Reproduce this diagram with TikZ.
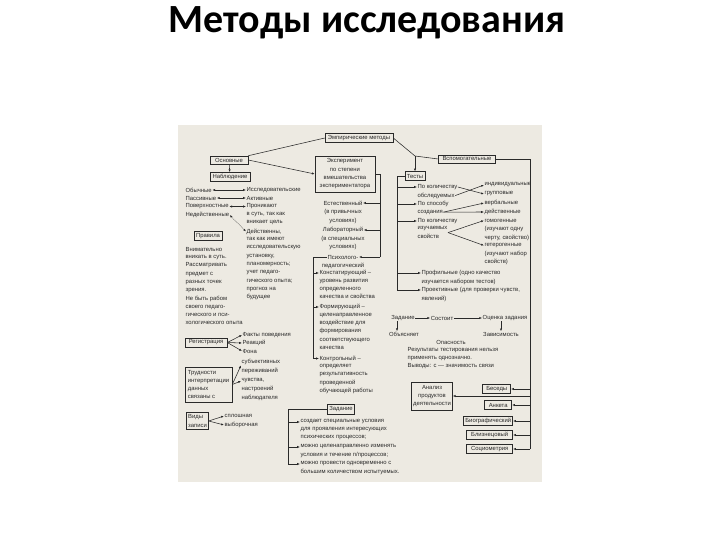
\documentclass[tikz,border=0pt]{standalone}
\usepackage{fontspec}
\setmainfont{Liberation Sans}
\newfontfamily\titlefam{Carlito}
\usepackage{tikz}
\usetikzlibrary{arrows.meta,positioning}
\definecolor{Scan}{HTML}{EDEAE2}
\definecolor{Ink}{HTML}{2A2A2A}
\newcommand\scan{\fontsize{5.9}{8.3}\selectfont}
\tikzset{
  every node/.append style={text=Ink},
  box/.style={draw=Ink, line width=0.55pt, align=center, inner sep=1.6pt, font=\scan},
  tag/.style={inner sep=0.4pt, align=left, font=\scan},
  more/.style={tag, anchor=north west},
  link/.style={draw=Ink, line width=0.55pt},
  arrow/.style={link, -{Latex[length=2.8pt,width=2.2pt]}},
  darrow/.style={link, {Latex[length=2.8pt,width=2.2pt]}-{Latex[length=2.8pt,width=2.2pt]}},
}

\begin{document}
\begin{tikzpicture}[x=1pt, y=-1pt]
  \useasboundingbox (0,0) rectangle (720,540);
  \fill[Scan] (178,125) rectangle (542,482);
  \node[font=\titlefam\bfseries\fontsize{40}{44}\selectfont, text=black] (title) at (367,23) {Методы исследования};

  % top level
  \node[box, minimum width=68pt, minimum height=9pt] (emp) at (359,138) {Эмпирические методы};
  \node[box, minimum width=38pt, minimum height=8pt] (osn) at (229,160) {Основные};
  \node[box, minimum width=57pt, minimum height=8pt] (vsp) at (467,159) {Вспомогательные};
  \node[box, minimum width=40pt, minimum height=9pt] (nab) at (230,177) {Наблюдение};
  \node[box, minimum width=60pt, inner ysep=3pt] (exp) at (345,174) {Эксперимент\\по степени\\вмешательства\\экспериментатора};
  \node[box, minimum width=18pt, minimum height=8.5pt] (tst) at (415,176) {Тесты};
  \coordinate (jn) at (415,156);
  \coordinate (rt) at (530,159);
  \draw[link] (osn.north east) -- (emp.west);
  \draw[arrow] (osn.east) -- (exp.west);
  \draw[arrow] (osn) -- (nab);
  \draw[link] (emp.east) -- (jn) -- (vsp.west);
  \draw[arrow] (jn) -- (tst);

  % observation
  \node[tag, anchor=west] (o1) at (185,190) {Обычные};
  \node[tag, anchor=west] (o2) at (185,198) {Пассивные};
  \node[tag, anchor=west] (o3) at (185,206.5) {Поверхностные};
  \node[tag, anchor=west] (o4) at (185,215) {Недейственные};
  \node[tag, anchor=west] (r1) at (246,190) {Исследовательские};
  \node[tag, anchor=west] (r2) at (246,198) {Активные};
  \node[tag, anchor=west] (r3) at (246,206.5) {Проникают};
  \node[more] (r3b) at ([yshift=-3.8pt]r3.base west) {в суть, так как\\вникает цель};
  \node[tag, anchor=west] (r4) at (246,231.5) {Действенны,};
  \node[more] (r4b) at ([yshift=-3.8pt]r4.base west) {так как имеют\\исследовательскую\\установку,\\планомерность;\\учет педаго-\\гического опыта;\\прогноз на\\будущее};
  \draw[darrow] (o1) -- (r1);
  \draw[darrow] (o2) -- (r2);
  \draw[darrow] (o3) -- (r3);
  \draw[darrow, densely dotted] (o4.east) -- (r4.west);
  \node[box, minimum width=28pt, minimum height=9pt] (prv) at (208,236) {Правила};
  \node[tag, anchor=west] (prv1) at (185,249) {Внимательно};
  \node[more] (prv2) at ([yshift=-3.8pt]prv1.base west) {вникать в суть.\\Рассматривать\\предмет с\\разных точек\\зрения.\\Не быть рабом\\своего педаго-\\гического и пси-\\хологического опыта};

  \node[box, minimum width=42pt, minimum height=9pt] (reg) at (206,342.5) {Регистрация};
  \node[tag, anchor=west] (f1) at (242,335) {Факты поведения};
  \node[tag, anchor=west] (f2) at (242,343) {Реакций};
  \node[tag, anchor=west] (f3) at (242,351) {Фона};
  \foreach \f in {f1,f2,f3} \draw[arrow] (reg.east) -- (\f.west);

  \node[box, align=left, minimum width=47pt, minimum height=35pt] (trd) at (208.5,384.5) {Трудности\\интерпретации\\данных\\связаны с};
  \node[tag, anchor=west] (s1) at (241,362) {субъективных};
  \node[more] (s1b) at ([yshift=-3.8pt]s1.base west) {переживаний};
  \node[tag, anchor=west] (s2) at (241,381) {чувства,};
  \node[more] (s2b) at ([yshift=-3.8pt]s2.base west) {настроений\\наблюдателя};
  \draw[arrow] (trd.east) -- (s1.south west);
  \draw[arrow] (trd.east) -- (s2.west);

  \node[box, align=left, minimum width=21pt, minimum height=17pt] (vid) at (197.5,421) {Виды\\записи};
  \node[tag, anchor=west] (v1) at (224,416) {сплошная};
  \node[tag, anchor=west] (v2) at (224,425) {выборочная};
  \draw[arrow] (vid.east) -- (v1.west);
  \draw[arrow] (vid.east) -- (v2.west);

  % experiment
  \coordinate (ex) at (380,174);
  \node[tag] (e1) at (343,203) {Естественный};
  \node[tag, align=center, anchor=north] (e1b) at ([yshift=-3.8pt]e1.base) {(в привычных\\условиях)};
  \node[tag] (e2) at (343,230) {Лабораторный};
  \node[tag, align=center, anchor=north] (e2b) at ([yshift=-3.8pt]e2.base) {(в специальных\\условиях)};
  \node[tag] (e3) at (343,257) {Психолого-};
  \node[tag, align=center, anchor=north] (e3b) at ([yshift=-3.8pt]e3.base) {педагогический};
  \draw[link] (exp.east) -- (ex) -- (ex |- e3);
  \foreach \e in {e1,e2,e3} \draw[arrow] (ex |- \e) -- (\e);
  \coordinate (pl) at (313,257);
  \node[tag, anchor=west] (k1) at (319,273) {Констатирующий –};
  \node[more] (k1b) at ([yshift=-3.8pt]k1.base west) {уровень развития\\определенного\\качества и свойства};
  \node[tag, anchor=west] (k2) at (319,307) {Формирующий –};
  \node[more] (k2b) at ([yshift=-3.8pt]k2.base west) {целенаправленное\\воздействие для\\формирования\\соответствующего\\качества};
  \node[tag, anchor=west] (k3) at (319,358.5) {Контрольный –};
  \node[more] (k3b) at ([yshift=-3.8pt]k3.base west) {определяет\\результативность\\проведенной\\обучающей работы};
  \draw[link] (e3.west) -- (pl) -- (pl |- k3);
  \foreach \k in {k1,k2,k3} \draw[arrow] (pl |- \k) -- (\k);

  \node[box, minimum width=26pt, minimum height=10pt] (zad) at (341,409) {Задание};
  \coordinate (zl) at (288,409);
  \node[tag, anchor=west] (z1) at (300,422) {создает специальные условия};
  \node[more] (z1b) at ([yshift=-3.8pt]z1.base west) {для проявления интересующих\\психических процессов;};
  \node[tag, anchor=west] (z2) at (300,447) {можно целенаправленно изменять};
  \node[more] (z2b) at ([yshift=-3.8pt]z2.base west) {условия и течение п/процессов;};
  \node[tag, anchor=west] (z3) at (300,464) {можно провести одновременно с};
  \node[more] (z3b) at ([yshift=-3.8pt]z3.base west) {большим количеством испытуемых.};
  \draw[link] (zad.west) -- (zl) -- (zl |- z3);
  \foreach \z in {z1,z2,z3} \draw[arrow] (zl |- \z) -- (\z);

  % tests
  \coordinate (tl) at (397,176);
  \node[tag, anchor=west] (t1) at (417,187) {По количеству};
  \node[more] (t1b) at ([yshift=-3.8pt]t1.base west) {обследуемых};
  \node[tag, anchor=west] (t2) at (417,204) {По способу};
  \node[more] (t2b) at ([yshift=-3.8pt]t2.base west) {создания};
  \node[tag, anchor=west] (t3) at (417,221) {По количеству};
  \node[more] (t3b) at ([yshift=-3.8pt]t3.base west) {изучаемых\\свойств};
  \node[tag, anchor=west] (i1) at (484,185) {индивидуальные};
  \node[tag, anchor=west] (i2) at (484,194) {групповые};
  \node[tag, anchor=west] (i3) at (484,203) {вербальные};
  \node[tag, anchor=west] (i4) at (484,212) {действенные};
  \node[tag, anchor=west] (i5) at (484,220.5) {гомогенные};
  \node[more] (i5b) at ([yshift=-3.8pt]i5.base west) {(изучают одну\\черту, свойство)};
  \node[tag, anchor=west] (i6) at (484,245.5) {гетерогенные};
  \node[more] (i6b) at ([yshift=-3.8pt]i6.base west) {(изучают набор\\свойств)};
  \node[tag, anchor=west] (p1) at (421,273) {Профильные (одно качество};
  \node[more] (p1b) at ([yshift=-3.8pt]p1.base west) {изучается набором тестов)};
  \node[tag, anchor=west] (p2) at (421,290) {Проективные (для проверки чувств,};
  \node[more] (p2b) at ([yshift=-3.8pt]p2.base west) {явлений)};
  \draw[link] (tst.west) -- (tl) -- (tl |- p2);
  \foreach \t in {t1,t2,t3,p1,p2} \draw[arrow] (tl |- \t) -- (\t);
  \draw[arrow] (t1.east) -- (i2.west);
  \draw[arrow] (t1b.east) -- (i1.west);
  \draw[arrow] (t2b.east) -- (i3.west);
  \draw[arrow] (t2b.east) -- (i4.west);
  \draw[arrow] (t3b.east) -- (i5.west);
  \draw[arrow] (t3b.east) -- (i6.west);

  \node[tag] (n1) at (403,318) {Задание};
  \node[tag] (n2) at (442,318) {Состоит};
  \node[tag] (n3) at (505,318) {Оценка задания};
  \node[tag] (n4) at (404,334) {Объясняет};
  \node[tag] (n5) at (501,334) {Зависимость};
  \draw[arrow] (n1) -- (n2);
  \draw[arrow] (n2) -- (n3);
  \draw[arrow] ([xshift=-6pt]n1.south) -- ([xshift=-6pt]n1.south |- n4.north);
  \draw[arrow] (n5 |- n3.south) -- (n5.north);
  \node[tag] (ops) at (451,342) {Опасность};
  \node[more] (res) at (407,346.5) {Результаты тестирования нельзя\\применять однозначно.\\Выводы: с — значимость связи};

  % auxiliary
  \node[box, minimum width=40pt, minimum height=28pt] (anl) at (432,396) {Анализ\\продуктов\\деятельности};
  \node[box, anchor=east, minimum width=28pt, minimum height=9pt] (bes) at (511,389) {Беседы};
  \node[box, anchor=east, minimum width=27pt, minimum height=9pt] (ank) at (512,405) {Анкета};
  \node[box, anchor=east, minimum height=9pt] (bio) at (513,421) {Биографический};
  \node[box, anchor=east, minimum width=46pt, minimum height=9pt] (blz) at (513,435) {Близнецовый};
  \node[box, anchor=east, minimum width=46pt, minimum height=9pt] (soc) at (513,449) {Социометрия};
  \draw[link] (vsp.east) -- (rt) -- (rt |- soc);
  \foreach \b in {anl,bes,ank,bio,blz,soc} \draw[arrow] (rt |- \b) -- (\b);
\end{tikzpicture}
\end{document}
